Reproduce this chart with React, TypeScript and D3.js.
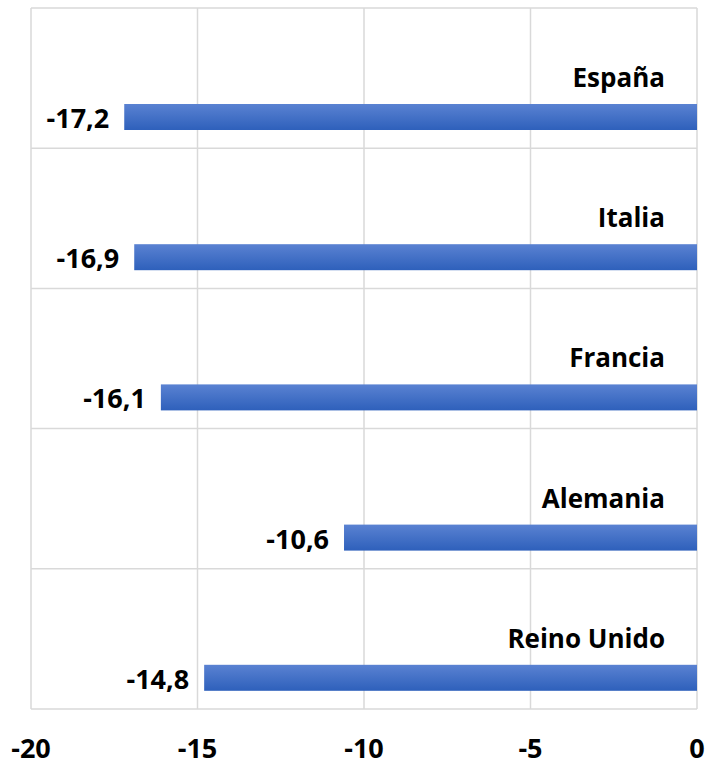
import React, { useEffect, useRef } from "react";
import * as d3 from "d3";

const countries = ["España", "Italia", "Francia", "Alemania", "Reino Unido"];
const values = [-17.2, -16.9, -16.1, -10.6, -14.8];
const ticks = [-20, -15, -10, -5, 0];

export default function App() {
  const svgRef = useRef<SVGSVGElement | null>(null);

  useEffect(() => {
    const width = 707;
    const height = 766;
    const m = { top: 8, right: 10, bottom: 57, left: 31 };
    const svg = d3.select(svgRef.current).attr("width", width).attr("height", height);
    svg.selectAll("*").remove();

    const x = d3.scaleLinear().domain([-20, 0]).range([m.left, width - m.right]);
    const y = d3.scaleBand().domain(countries).range([m.top, height - m.bottom]);

    const defs = svg.append("defs");
    const grad = defs.append("linearGradient").attr("id", "barGrad")
      .attr("x1", 0).attr("y1", 0).attr("x2", 0).attr("y2", 1);
    grad.append("stop").attr("offset", "0%").attr("stop-color", "#5a82d2");
    grad.append("stop").attr("offset", "100%").attr("stop-color", "#2e60bb");

    const font = "'Open Sans', sans-serif";
    const fmt = (d: number) => String(d).replace(".", ",");

    // vertical grid
    svg.append("g").selectAll("line").data(ticks).enter().append("line")
      .attr("x1", (d) => x(d)).attr("x2", (d) => x(d))
      .attr("y1", m.top).attr("y2", height - m.bottom)
      .attr("stroke", "#d9d9d9").attr("stroke-width", 1.5);

    // horizontal band lines
    const bounds = countries.map((c) => y(c) as number).concat([height - m.bottom]);
    svg.append("g").selectAll("line").data(bounds).enter().append("line")
      .attr("x1", m.left).attr("x2", width - m.right)
      .attr("y1", (d) => d).attr("y2", (d) => d)
      .attr("stroke", "#d9d9d9").attr("stroke-width", 1.5);

    // bars
    svg.append("g").selectAll("rect").data(values).enter().append("rect")
      .attr("x", (d) => x(d))
      .attr("y", (d, i) => (y(countries[i]) as number) + 96)
      .attr("width", (d) => x(0) - x(d))
      .attr("height", 26)
      .attr("fill", "url(#barGrad)");

    // value labels
    svg.append("g").selectAll("text").data(values).enter().append("text")
      .attr("x", (d) => x(d) - 15)
      .attr("y", (d, i) => (y(countries[i]) as number) + 120)
      .attr("text-anchor", "end")
      .attr("font-family", font).attr("font-weight", "bold").attr("font-size", 27)
      .attr("fill", "#000")
      .text((d) => fmt(d));

    // category labels
    svg.append("g").selectAll("text").data(countries).enter().append("text")
      .attr("x", x(0) - 32)
      .attr("y", (d) => (y(d) as number) + 79)
      .attr("text-anchor", "end")
      .attr("font-family", font).attr("font-weight", "bold").attr("font-size", 26)
      .attr("fill", "#000")
      .text((d) => d);

    // x tick labels
    svg.append("g").selectAll("text").data(ticks).enter().append("text")
      .attr("x", (d) => x(d))
      .attr("y", height - 8)
      .attr("text-anchor", "middle")
      .attr("font-family", font).attr("font-weight", "bold").attr("font-size", 27)
      .attr("fill", "#000")
      .text((d) => fmt(d));
  }, []);

  return (
    <div style={{ position: "absolute", left: 0, top: 0 }}>
      <svg ref={svgRef}></svg>
    </div>
  );
}
